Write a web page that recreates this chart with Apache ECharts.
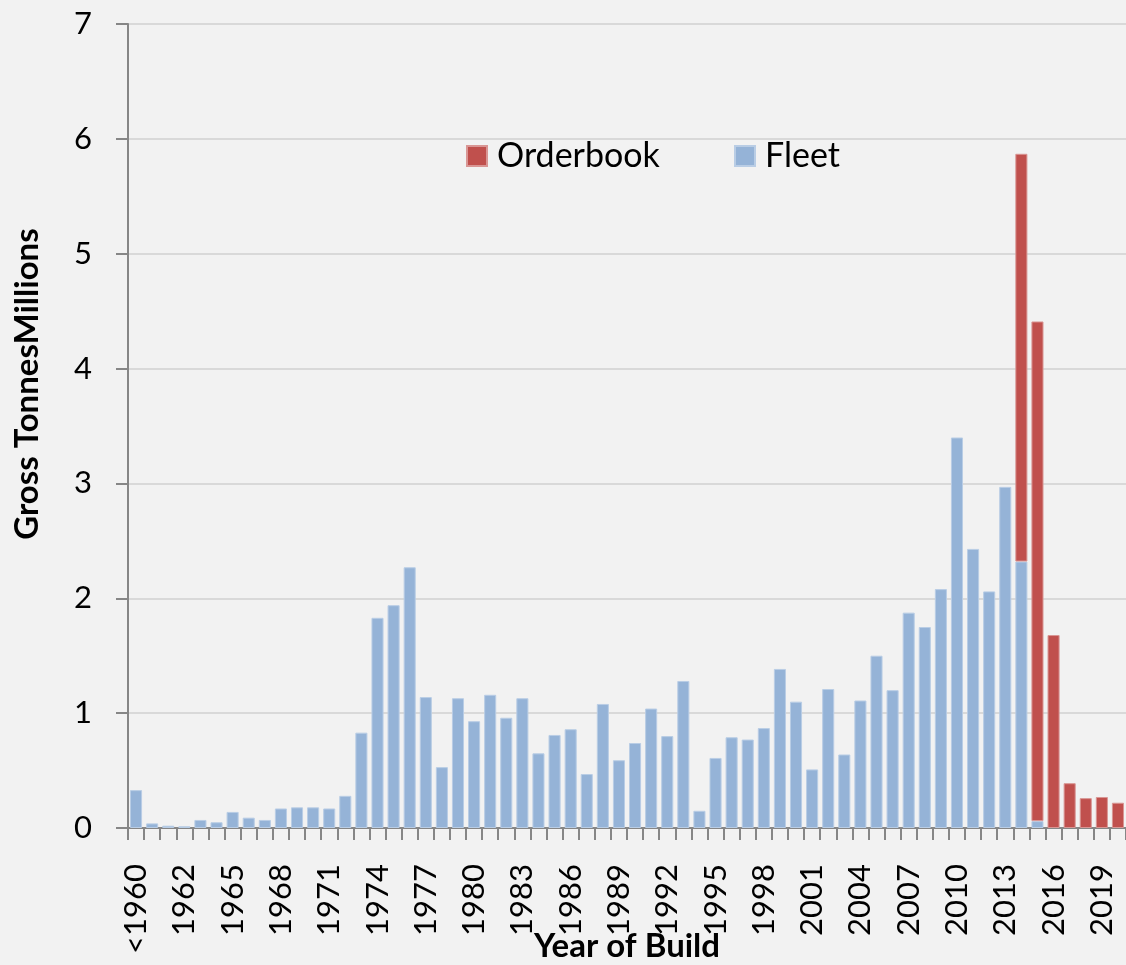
<!DOCTYPE html>
<html>
<head>
<meta charset="utf-8">
<script src="https://cdn.jsdelivr.net/npm/echarts@6/dist/echarts.min.js"></script>
<style>
  html, body { margin: 0; padding: 0; background: #F2F2F2; }
  #chart { width: 1126px; height: 965px; }
</style>
</head>
<body>
<div id="chart"></div>
<script>
// year of build categories: '<1960', then 1960 .. 2020
const years = ['<1960']
for (let y = 1960; y <= 2020; y++) years.push(String(y))

// gross tonnes, millions
const fleet = [
  0.33, 0.04, 0.02, 0.015, 0.07, 0.05, 0.14, 0.09, 0.07, 0.17,
  0.18, 0.18, 0.17, 0.28, 0.83, 1.83, 1.94, 2.27, 1.14, 0.53,
  1.13, 0.93, 1.16, 0.96, 1.13, 0.65, 0.81, 0.86, 0.47, 1.08,
  0.59, 0.74, 1.04, 0.80, 1.28, 0.15, 0.61, 0.79, 0.77, 0.87,
  1.385, 1.10, 0.51, 1.21, 0.64, 1.11, 1.50, 1.20, 1.875, 1.75,
  2.08, 3.40, 2.43, 2.06, 2.97, 2.32, 0.06, null, null, null,
  null, null
]
const orderbook = [
  null, null, null, null, null, null, null, null, null, null,
  null, null, null, null, null, null, null, null, null, null,
  null, null, null, null, null, null, null, null, null, null,
  null, null, null, null, null, null, null, null, null, null,
  null, null, null, null, null, null, null, null, null, null,
  null, null, null, null, null, 3.55, 4.35, 1.68, 0.39, 0.26,
  0.27, 0.22
]
const yTicks = [0, 1, 2, 3, 4, 5, 6, 7]

const font = 'Lato'
const legendText = { fontFamily: font, fontSize: 34, color: '#000', lineHeight: 40, padding: [0, 0, 0, 5] }

const chart = echarts.init(document.getElementById('chart'))
const option = {
  backgroundColor: '#F2F2F2',
  animation: false,
  legend: [
    {
      data: ['Orderbook'],
      left: 461, top: 131,
      itemWidth: 20, itemHeight: 20, itemGap: 0,
      textStyle: legendText,
      icon: 'rect'
    },
    {
      data: ['Fleet'],
      left: 729, top: 131,
      itemWidth: 20, itemHeight: 20, itemGap: 0,
      textStyle: legendText,
      icon: 'rect'
    }
  ],
  grid: { left: 128, right: 0, top: 24, bottom: 137, containLabel: false, outerBoundsMode: 'none' },
  xAxis: {
    type: 'category',
    data: years,
    name: 'Year of Build',
    nameLocation: 'middle',
    nameGap: 102,
    nameMoveOverlap: false,
    nameTextStyle: { fontFamily: font, fontWeight: 'bold', fontSize: 33, color: '#000' },
    axisLine: { lineStyle: { color: '#868686', width: 2 } },
    axisTick: { show: true, interval: 0, length: 12, lineStyle: { color: '#868686', width: 2 } },
    axisLabel: {
      interval: 2, rotate: 90, margin: 36,
      fontFamily: font, fontSize: 31, color: '#000'
    }
  },
  yAxis: {
    type: 'value',
    min: yTicks[0], max: yTicks[yTicks.length - 1], interval: 1,
    name: 'Gross TonnesMillions',
    nameLocation: 'middle',
    nameRotate: 90,
    nameGap: 84,
    nameMoveOverlap: false,
    nameTextStyle: {
      fontFamily: font, fontWeight: 'bold', fontSize: 33, color: '#000',
      padding: [0, 0, 0, 84]
    },
    axisLine: { show: true, lineStyle: { color: '#868686', width: 2 } },
    axisTick: { show: true, length: 12, lineStyle: { color: '#868686', width: 2 } },
    axisLabel: { margin: 36, fontFamily: font, fontSize: 31, color: '#000' },
    splitLine: { lineStyle: { color: '#D9D9D9', width: 2 } }
  },
  series: [
    {
      name: 'Fleet',
      type: 'bar',
      stack: 'gt',
      data: fleet,
      barCategoryGap: '25%',
      itemStyle: { color: '#95B3D7', borderColor: '#B9CDE5', borderWidth: 1 }
    },
    {
      name: 'Orderbook',
      type: 'bar',
      stack: 'gt',
      data: orderbook,
      barCategoryGap: '25%',
      itemStyle: { color: '#C0504D', borderColor: '#D99694', borderWidth: 1 }
    }
  ]
}
chart.setOption(option)
</script>
</body>
</html>
